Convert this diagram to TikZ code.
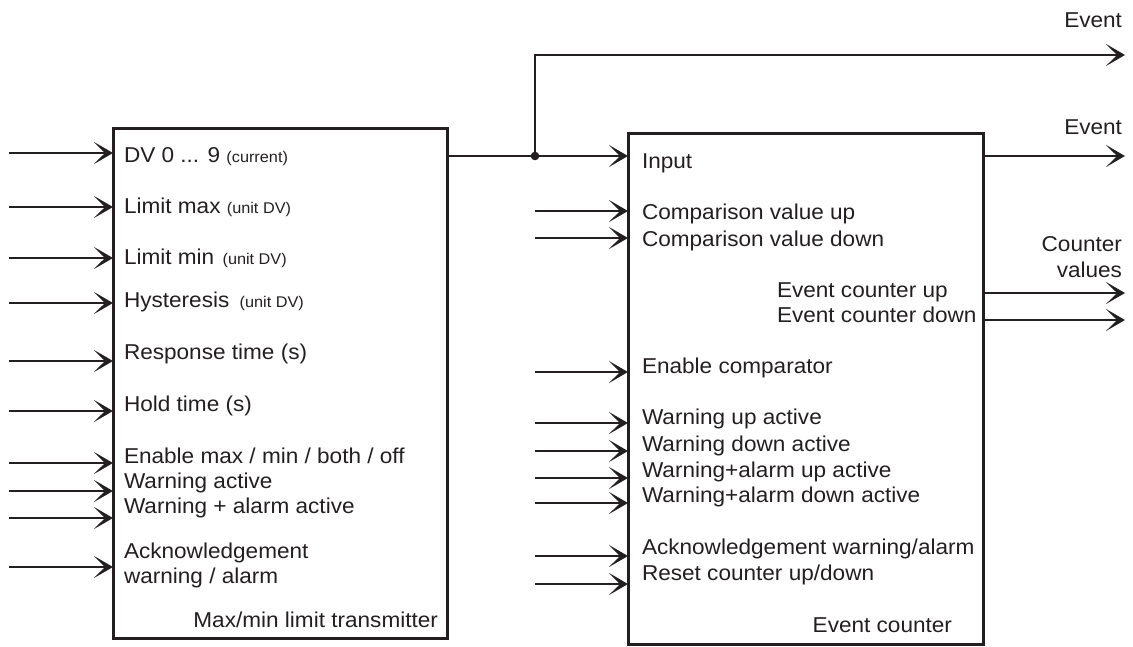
\documentclass[tikz,border=0pt]{standalone}
\usepackage{fontspec}
\setmainfont{Liberation Sans}[FakeStretch=1.05]
\usetikzlibrary{arrows.meta}
\definecolor{ink}{HTML}{231F20}
\newcommand\sm[1]{{\fontsize{15.5}{18}\selectfont #1}}
\begin{document}
\begin{tikzpicture}[x=1pt,y=-1pt,
  box/.style={draw=ink, line width=3pt, rectangle, inner sep=0pt, outer sep=0pt},
  lbl/.style={anchor=base west, inner sep=0pt, outer sep=0pt, text=ink, font=\fontsize{21.5}{25}\selectfont},
  lblr/.style={lbl, anchor=base east},
  arr/.style={draw=ink, line width=1.3pt, -{Stealth[length=19pt,width=22pt,inset=11pt,line width=2pt]}},
  wire/.style={draw=ink, line width=1.3pt}
]
\useasboundingbox (0,0) rectangle (1133,646);
% boxes
\node[box, minimum width=334pt, minimum height=510pt] (L) at (280,383) {};
\node[box, minimum width=355pt, minimum height=511pt] (R) at (805.5,389) {};
% left inputs
\foreach \y [count=\i] in {153,207,258,303,361,411,463,491,518,567} {
  \coordinate (li\i) at (9,\y);
  \draw[arr] (li\i) -- (li\i -| L.west);
}
% right inputs
\foreach \y [count=\i] in {211,238,372,423,451,478,503,556,584} {
  \coordinate (ri\i) at (535,\y);
  \draw[arr] (ri\i) -- (ri\i -| R.west);
}
% junction and event lines
\coordinate (J) at (535,156);
\coordinate (ev1) at (1125,55);
\coordinate (ev2) at (1125,156);
\coordinate (cv1) at (1125,293);
\coordinate (cv2) at (1125,320);
\draw[wire] (L.east |- J) -- (J);
\draw[arr] (J) -- (J -| R.west);
\draw[arr] (J) -- (J |- ev1) -- (ev1);
\fill[ink] (J) circle (4.3pt);
\draw[arr] (R.east |- ev2) -- (ev2);
\draw[arr] (R.east |- cv1) -- (cv1);
\draw[arr] (R.east |- cv2) -- (cv2);
% left labels
\node[lbl] (t1) at (124,162) {DV 0 ... 9 \sm{(current)}};
\node[lbl] (t2) at (124,213) {Limit max \sm{(unit DV)}};
\node[lbl] (t3) at (124,264) {Limit min\hspace{2pt} \sm{(unit DV)}};
\node[lbl] (t4) at (124,307) {Hysteresis\hspace{4pt} \sm{(unit DV)}};
\node[lbl] (t5) at (124,359) {Response time (s)};
\node[lbl] (t6) at (124,411) {Hold time (s)};
\node[lbl] (t7) at (124,463) {Enable max / min / both / off};
\node[lbl] (t8) at (124,488) {Warning active};
\node[lbl] (t9) at (124,513) {Warning + alarm active};
\node[lbl] (t10) at (124,558) {Acknowledgement};
\node[lbl] (t11) at (124,583) {warning / alarm};
\node[lblr] (t12) at (438,627) {Max/min limit transmitter};
% right labels
\node[lbl] (r1) at (642,168) {Input};
\node[lbl] (r2) at (642,219) {Comparison value up};
\node[lbl] (r3) at (642,246) {Comparison value down};
\node[lbl] (r4) at (642,373) {Enable comparator};
\node[lbl] (r5) at (642,424) {Warning up active};
\node[lbl] (r6) at (642,451) {Warning down active};
\node[lbl] (r7) at (642,477) {Warning+alarm up active};
\node[lbl] (r8) at (642,502) {Warning+alarm down active};
\node[lbl] (r9) at (642,554) {Acknowledgement warning/alarm};
\node[lbl] (r10) at (642,580) {Reset counter up/down};
\node[lbl] (r11) at (777,297) {Event counter up};
\node[lbl] (r12) at (777,322) {Event counter down};
\node[lblr] (r13) at (952,632) {Event counter};
% output labels
\node[lblr] (o1) at (1122,27) {Event};
\node[lblr] (o2) at (1122,134) {Event};
\node[lblr] (o3) at (1122,251) {Counter};
\node[lblr] (o4) at (1122,277) {values};
\end{tikzpicture}
\end{document}
